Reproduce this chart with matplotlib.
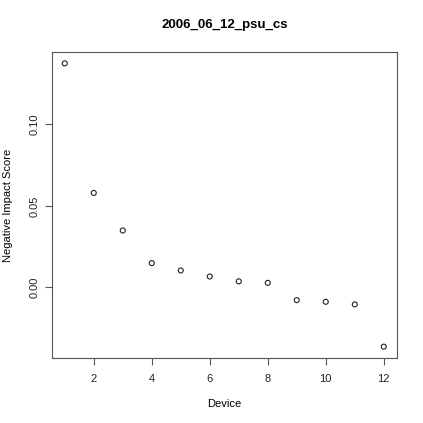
import numpy as np
import matplotlib
matplotlib.use("Agg")
import matplotlib.pyplot as plt

plt.rcParams["font.family"] = ["Liberation Sans", "DejaVu Sans"]

# ------------------------------------------------
# DATA
# ------------------------------------------------
device = [1, 2, 3, 4, 5, 6, 7, 8, 9, 10, 11, 12]
impact = [0.1373, 0.0579, 0.0349, 0.0149, 0.0104, 0.0067,
          0.0037, 0.0028, -0.0078, -0.0088, -0.0104, -0.0363]

x_ticks = [2, 4, 6, 8, 10, 12]
y_ticks = [0.00, 0.05, 0.10]
y_tick_labels = ["0.00", "0.05", "0.10"]

title = "2006_06_12_psu_cs"

# ------------------------------------------------
# PLOT
# ------------------------------------------------
fig = plt.figure(figsize=(4.23, 4.23), dpi=100)
ax = fig.add_axes([0.1229, 0.1537, 0.8145, 0.7233])

ax.scatter(device, impact, s=13, facecolors="none", edgecolors="#222222",
           linewidths=0.8)

# R-style 4% padding
xr = max(device) - min(device)
yr = max(impact) - min(impact)
ax.set_xlim(min(device) - 0.04 * xr, max(device) + 0.04 * xr)
ax.set_ylim(min(impact) - 0.04 * yr, max(impact) + 0.04 * yr)

ax.set_xticks(x_ticks)
ax.set_yticks(y_ticks)
ax.set_yticklabels(y_tick_labels, rotation=90, va="center")

for s in ax.spines.values():
    s.set_color("#555555")
    s.set_linewidth(0.8)

ax.tick_params(direction="out", length=5, width=0.8, color="#555555",
               labelsize=8, labelcolor="#222222")
ax.tick_params(axis="x", pad=6.5)
ax.tick_params(axis="y", pad=4)

ax.set_xlabel("Device", fontsize=8, labelpad=11)
ax.set_ylabel("Negative Impact Score", fontsize=8, labelpad=12)
ax.set_title(title, fontsize=9.5, fontweight="bold", pad=17)

fig.savefig("out.png", dpi=100)
